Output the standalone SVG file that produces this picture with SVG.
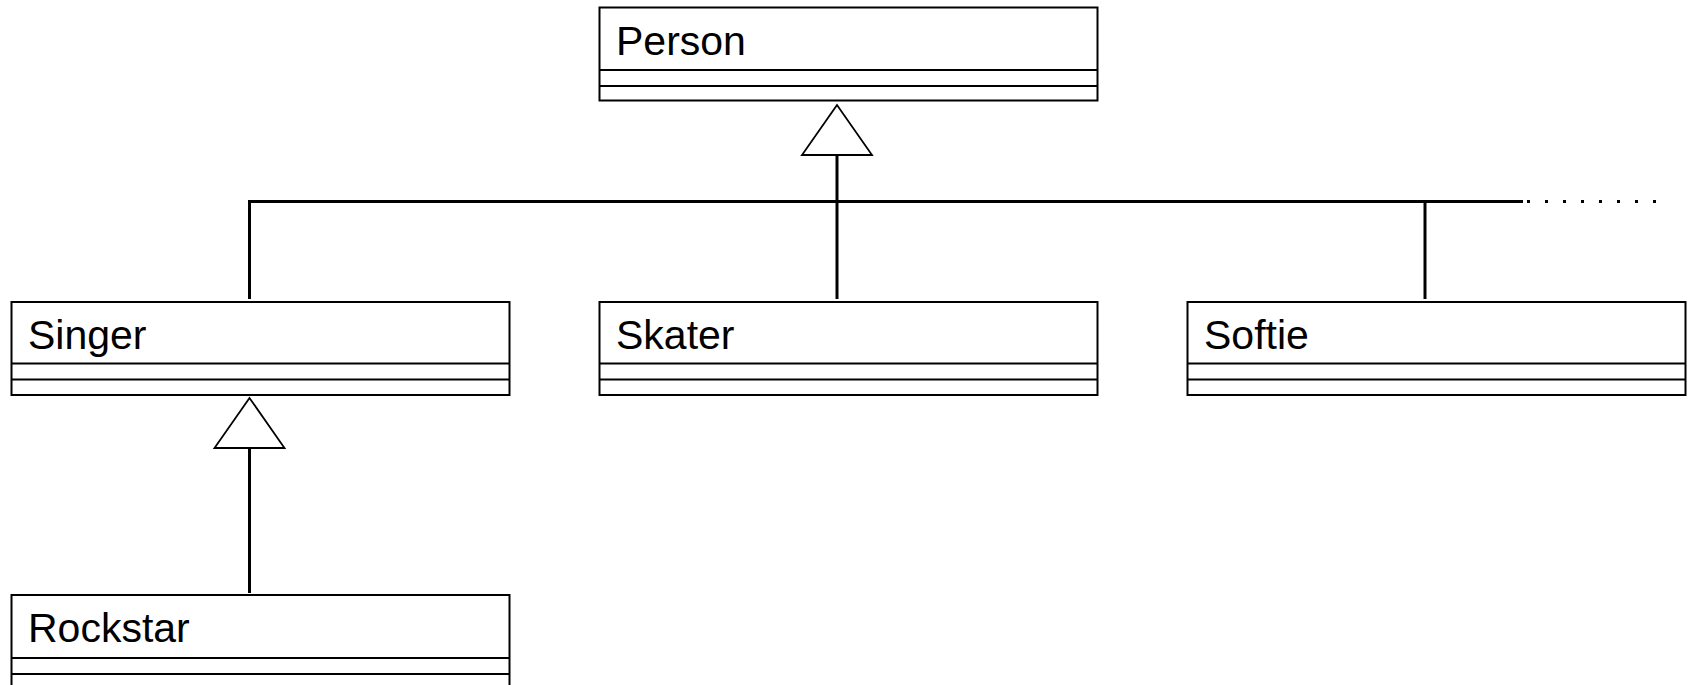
<svg xmlns="http://www.w3.org/2000/svg" width="1695" height="685" viewBox="0 0 1695 685">
  <style>
    .box { fill: #ffffff; stroke: #000000; stroke-width: 2; }
    .sep { stroke: #000000; stroke-width: 2; }
    .name { font-family: "Liberation Sans", Arial, sans-serif; font-size: 41px; fill: #000000; }
    .edge { fill: none; stroke: #000000; stroke-width: 3; stroke-linejoin: miter; }
    .dots { fill: none; stroke: #000000; stroke-width: 3; stroke-dasharray: 3 15; }
    .head { fill: #ffffff; stroke: #000000; stroke-width: 1.8; stroke-linejoin: miter; }
  </style>

  <!-- generalisation connectors -->
  <g id="connectors">
    <!-- Person hierarchy bus -->
    <path class="edge" d="M249.5,299 V201.5 H1523"/>
    <path class="edge" d="M837,155 V299"/>
    <path class="edge" d="M1425,201.5 V299"/>
    <line class="dots" x1="1527" y1="201.5" x2="1656" y2="201.5"/>
    <polygon class="head" points="837,105 802,155 872,155"/>
    <!-- Rockstar to Singer -->
    <path class="edge" d="M249.5,448 V593"/>
    <polygon class="head" points="249.5,398 214.5,448 284.5,448"/>
  </g>

  <g id="person">
    <rect class="box" x="599.5" y="7.5" width="498" height="93"/>
    <line class="sep" x1="599.5" y1="70" x2="1097.5" y2="70"/>
    <line class="sep" x1="599.5" y1="86" x2="1097.5" y2="86"/>
    <text class="name" x="616" y="55">Person</text>
  </g>

  <g id="singer">
    <rect class="box" x="11.5" y="302" width="498" height="93"/>
    <line class="sep" x1="11.5" y1="363.5" x2="509.5" y2="363.5"/>
    <line class="sep" x1="11.5" y1="379.5" x2="509.5" y2="379.5"/>
    <text class="name" x="28" y="349">Singer</text>
  </g>

  <g id="skater">
    <rect class="box" x="599.5" y="302" width="498" height="93"/>
    <line class="sep" x1="599.5" y1="363.5" x2="1097.5" y2="363.5"/>
    <line class="sep" x1="599.5" y1="379.5" x2="1097.5" y2="379.5"/>
    <text class="name" x="616" y="349">Skater</text>
  </g>

  <g id="softie">
    <rect class="box" x="1187.5" y="302" width="498" height="93"/>
    <line class="sep" x1="1187.5" y1="363.5" x2="1685.5" y2="363.5"/>
    <line class="sep" x1="1187.5" y1="379.5" x2="1685.5" y2="379.5"/>
    <text class="name" x="1204" y="349">Softie</text>
  </g>

  <g id="rockstar">
    <rect class="box" x="11.5" y="595" width="498" height="93"/>
    <line class="sep" x1="11.5" y1="658" x2="509.5" y2="658"/>
    <line class="sep" x1="11.5" y1="674" x2="509.5" y2="674"/>
    <text class="name" x="28" y="642">Rockstar</text>
  </g>
</svg>
